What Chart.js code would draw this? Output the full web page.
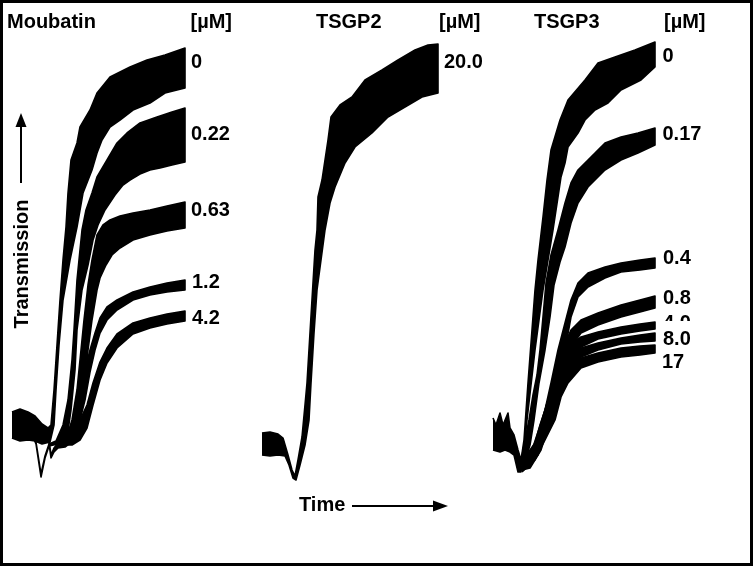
<!DOCTYPE html>
<html><head><meta charset="utf-8">
<script src="https://cdn.jsdelivr.net/npm/chart.js@4.4.1/dist/chart.umd.min.js"></script>
<style>
html,body{margin:0;padding:0;background:#fff;}
#fig{position:relative;width:753px;height:566px;overflow:hidden;background:#fff;font-family:"Liberation Sans",Arial,Helvetica,sans-serif;font-weight:bold;font-size:20px;color:#000;}
#frame{position:absolute;left:0;top:0;width:753px;height:566px;box-sizing:border-box;border:3px solid #000;z-index:5;}
canvas{position:absolute;}
.t{position:absolute;line-height:20px;white-space:nowrap;z-index:3;}
svg{position:absolute;left:0;top:0;z-index:4;}
</style></head><body>
<div id="fig">
<canvas id="cM" width="190" height="470" style="left:10px;top:30px"></canvas>
<canvas id="c2" width="190" height="470" style="left:256px;top:30px"></canvas>
<canvas id="c3" width="190" height="470" style="left:488px;top:30px"></canvas>
<div id="labels"></div>
<div class="t" style="left:-43.6px;top:254px;width:130px;text-align:center;transform:rotate(-90deg);">Transmission</div>
<div class="t" style="left:299px;top:494px;">Time</div>
<svg width="753" height="566">
  <line x1="21" y1="183" x2="21" y2="124" stroke="#000" stroke-width="2"/>
  <polygon points="21,113 15.5,127 26.5,127" fill="#000"/>
  <line x1="352" y1="506" x2="436" y2="506" stroke="#000" stroke-width="2"/>
  <polygon points="448,506 433,500.5 433,511.5" fill="#000"/>
</svg>
<div id="frame"></div>
</div>
<script>
// ===== DATA: platelet aggregation traces, time (s) vs light transmission (%) =====
// Each recorded trace is a noisy band: its upper and lower edge, [time, transmission].
const moubatinConc = ['0', '0.22', '0.63', '1.2', '4.2'];
const tsgp2Conc = ['20.0'];
const tsgp3Conc = ['0', '0.17', '0.4', '0.8', '4.0', '8.0', '17'];
const unitLabel = '[\u00b5M]';
const panelTitles = ['Moubatin', 'TSGP2', 'TSGP3'];

// Moubatin
const moubatin0Upper = [[2,4.5],[10,5.25],[18,4.5],[25,3.5],[32,1.5],[38,0.5],[41,1.25],[44,10],[47,21.25],[50,32.5],[53,42.5],[56,50.75],[58,59.25],[61,67.5],[67,71.75],[70,75.75],[80,80],[87,84.25],[100,88.25],[120,90.75],[137,92.5],[155,93.75],[175,95.5]];
const moubatin0Lower = [[2,-2],[10,-2.75],[18,-2.5],[25,-2.75],[32,-3.5],[40,-3],[44,1.25],[46,10],[49,21.25],[53,32.5],[60,42.5],[67,50.75],[73,59.25],[82,65],[87,69.25],[92,72.5],[100,75.75],[110,77.5],[123,80],[140,81.75],[155,84.25],[175,85.5]];
const moubatin022Upper = [[20,0.5],[26,-3],[31,-11],[35,-6.5],[39,-3.5],[46,-2.75],[53,1.25],[58,7.5],[62,17.5],[64,25],[67,37.5],[70,45],[72,50],[76,55],[82,59.25],[87,63.25],[97,67.5],[107,71.75],[117,74.25],[130,76.75],[147,78.25],[162,79.5],[175,80.5]];
const moubatin022Lower = [[20,0],[26,-3.5],[31,-11.75],[35,-7],[39,-4],[48,-3.5],[57,-2],[61,5],[65,15],[67,25],[72,35],[78,41.25],[83,47.5],[88,51.25],[95,55],[105,58.75],[113,61.25],[120,62.5],[130,64],[140,65],[150,65.5],[162,66.25],[175,67]];
const moubatin063Upper = [[34,0],[38,-0.5],[41,-6.25],[44,-4.5],[48,-3.25],[56,-2.5],[62,2.5],[67,10],[71,20],[74,27.5],[78,36.25],[82,42.5],[87,48.75],[93,51.25],[100,52.5],[110,53.5],[123,54.25],[140,55],[157,56],[175,57]];
const moubatin063Lower = [[34,-0.5],[38,-1.5],[41,-7],[44,-5.5],[48,-4.5],[55,-4.25],[64,-2.5],[70,3.75],[75,12.5],[78,20],[82,27.5],[87,35],[90,38],[96,41.25],[102,43.75],[110,45.5],[123,47.5],[140,48.75],[157,49.75],[175,50.5]];
const moubatin12Upper = [[55,-2.5],[63,2.5],[70,8.75],[75,15],[80,20],[85,24.25],[90,28],[97,30.75],[107,32.5],[123,34.5],[140,35.75],[157,36.75],[175,37.5]];
const moubatin12Lower = [[55,-3.75],[63,-2.5],[70,2.5],[75,7.5],[80,14.5],[85,20],[90,24.25],[97,27.5],[107,30],[123,32.5],[140,33.75],[157,34.5],[175,35]];
const moubatin42Upper = [[52,-2.5],[62,-1.25],[70,2.5],[77,6.25],[83,11.75],[90,17],[97,20.5],[107,24],[123,26.75],[140,28],[157,29],[175,29.75]];
const moubatin42Lower = [[52,-3.75],[62,-3.75],[70,-2.5],[77,0.5],[83,6.25],[90,12.5],[97,16.75],[107,20.5],[123,24],[140,25.5],[157,26.5],[175,27.25]];

// TSGP2
const tsgp2_20Upper = [[6,-0.75],[14,-0.5],[22,-1],[27,-2],[32,-6.25],[36,-10],[39,-11.5],[42,-7.5],[46,-1.75],[49,6.25],[51,11.75],[54,24.25],[57,36.75],[59,45],[61,50],[62,58.25],[66,62.5],[69,67.5],[72,72.5],[75,78.25],[84,81.25],[96,83.25],[109,87.5],[126,90],[142,92.5],[159,95],[172,96.25],[182,96.5]];
const tsgp2_20Lower = [[6,-6.25],[14,-6.5],[22,-6.25],[29,-6.5],[33,-8.75],[37,-12],[40,-12.5],[44,-8.75],[49,-3.75],[53,2.5],[55,11.75],[58,24.25],[61,35],[65,42.5],[69,50],[74,56.75],[79,60.75],[89,66.75],[99,70.75],[116,74.25],[132,78.25],[149,80.75],[166,83.25],[182,84.25]];

// TSGP3
const tsgp3_0Upper = [[5,3],[8,1.25],[12,4.25],[15,1.25],[20,4.25],[22,0.5],[26,-1.25],[30,-5],[33,-7.5],[36,-2.5],[40,11.75],[44,25],[47,35],[50,42.5],[55,53.25],[59,62.5],[63,70],[72,77.5],[80,82.5],[97,87.5],[110,91.75],[127,93.25],[147,95],[167,97]];
const tsgp3_0Lower = [[5,-5],[12,-5.5],[17,-5],[22,-5.5],[26,-6.25],[30,-10.5],[33,-10.5],[36,-5],[39,2.5],[43,11.25],[47,20],[51,27.5],[55,35],[60,42.5],[65,50],[70,58.25],[73,63.25],[77,66.75],[80,70.75],[90,74.25],[97,77.5],[107,80],[120,81.75],[133,85],[153,87.5],[167,90.75]];
const tsgp3_017Upper = [[33,-8],[36,-3.75],[41,2.5],[45,8.75],[49,13.75],[52,20],[55,28.25],[58,36.75],[63,43.75],[70,50],[77,56.75],[83,61.75],[90,65],[103,68.25],[117,71.75],[133,73.25],[150,74.25],[167,75.5]];
const tsgp3_017Lower = [[36,-8.75],[42,-3.75],[46,2.5],[51,11.75],[57,20],[62,28.25],[66,36.25],[72,42],[77,45.75],[83,51.75],[90,56.75],[100,60.75],[117,65],[133,67.5],[150,69.25],[167,71.25]];
const tsgp3_04Upper = [[34,-8],[42,-5],[47,-3.25],[52,1.25],[57,5],[63,11.75],[70,20],[77,26.75],[83,32.5],[90,36.75],[100,39.25],[117,40.75],[133,41.75],[152,42.5],[167,43]];
const tsgp3_04Lower = [[35,-9.5],[42,-8.75],[50,-6.25],[57,-0.75],[63,5.75],[70,13.25],[77,20],[83,28.25],[90,33.25],[100,35.75],[117,38],[133,39.5],[152,40],[167,40.5]];
const tsgp3_08Upper = [[34,-8.75],[44,-5],[53,1.75],[63,10],[70,16.75],[77,21.75],[83,25],[93,27.5],[110,29.25],[133,31.25],[152,32.5],[167,33.5]];
const tsgp3_08Lower = [[34,-10],[42,-9.5],[53,-5],[63,3.25],[70,10],[77,16.75],[83,20.75],[93,24.25],[110,26.25],[133,28.25],[152,29.5],[167,30.5]];
const tsgp3_4Upper = [[34,-9],[47,-3.75],[60,7.5],[67,12.5],[73,17.5],[80,20.75],[93,23.25],[110,24.5],[133,25.75],[152,26.5],[167,27]];
const tsgp3_4Lower = [[34,-10],[47,-6.25],[60,1.75],[67,7.5],[73,13.25],[80,17.5],[93,20.75],[110,22.75],[133,24],[152,24.75],[167,25.25]];
const tsgp3_8Upper = [[34,-9.25],[47,-4.25],[60,5],[67,10.75],[73,15],[80,18.25],[93,20.5],[110,21.75],[133,23],[152,23.75],[167,24.25]];
const tsgp3_8Lower = [[34,-10.25],[47,-7],[60,0],[67,5],[73,10.75],[80,15],[93,18.25],[110,20],[133,21.5],[152,22],[167,22.25]];
const tsgp3_17Upper = [[34,-9.5],[47,-5],[57,1.75],[67,8.25],[73,12],[80,15.5],[93,18],[110,19.25],[133,20.5],[152,21],[167,21.25]];
const tsgp3_17Lower = [[34,-10.5],[47,-7.5],[57,-2.5],[67,2.5],[73,8.25],[80,11.75],[93,15.5],[110,17],[133,18.25],[152,18.75],[167,19.25]];

// ===== LAYOUT (not data) =====
const timeRange = [0, 190];
const transRange = [-17.5, 100];
const titlePos = [[7,11],[316,11],[534,11]];
const unitPos = [[190.5,11],[439,11],[664,11]];
const moubatinLabelPos = [[191,51],[191,123],[191,199],[192,271],[192,307]];
const tsgp2LabelPos = [[444,51]];
const tsgp3LabelPos = [[662.5,45],[662.5,123],[663,247],[663,287],[663,312],[663,328],[662,351]];

const panels = [
  {canvas:'cM', conc:moubatinConc, pos:moubatinLabelPos,
   bands:[[moubatin0Upper,moubatin0Lower],[moubatin022Upper,moubatin022Lower],[moubatin063Upper,moubatin063Lower],[moubatin12Upper,moubatin12Lower],[moubatin42Upper,moubatin42Lower]]},
  {canvas:'c2', conc:tsgp2Conc, pos:tsgp2LabelPos,
   bands:[[tsgp2_20Upper,tsgp2_20Lower]]},
  {canvas:'c3', conc:tsgp3Conc, pos:tsgp3LabelPos,
   bands:[[tsgp3_0Upper,tsgp3_0Lower],[tsgp3_017Upper,tsgp3_017Lower],[tsgp3_04Upper,tsgp3_04Lower],[tsgp3_08Upper,tsgp3_08Lower],[tsgp3_4Upper,tsgp3_4Lower],[tsgp3_8Upper,tsgp3_8Lower],[tsgp3_17Upper,tsgp3_17Lower]]}
];

function bandOutline(upper, lower) {
  // upper edge forward in time, lower edge back: a closed outline of the noise band
  return upper.concat(lower.slice().reverse()).map(p => ({x: p[0], y: p[1]}));
}

const labelBox = document.getElementById('labels');
function addText(txt, left, top, clipH) {
  const d = document.createElement('div');
  d.className = 't';
  d.textContent = txt;
  d.style.left = left + 'px';
  d.style.top = top + 'px';
  if (clipH) { d.style.height = clipH + 'px'; d.style.overflow = 'hidden'; }
  labelBox.appendChild(d);
}

panels.forEach((p, i) => {
  addText(panelTitles[i], titlePos[i][0], titlePos[i][1]);
  addText(unitLabel, unitPos[i][0], unitPos[i][1]);
  p.conc.forEach((c, j) => {
    // the "4.0" label of TSGP3 is mostly hidden under the 8.0 label in the original
    const clip = (i === 2 && c === '4.0') ? 9 : 0;
    addText(c, p.pos[j][0], p.pos[j][1], clip);
  });
  new Chart(document.getElementById(p.canvas), {
    type: 'line',
    data: {
      datasets: p.bands.map((b, j) => ({
        label: p.conc[j] + ' \u00b5M',
        data: bandOutline(b[0], b[1]),
        fill: 'shape',
        backgroundColor: '#000',
        borderColor: '#000',
        borderWidth: 1.6,
        borderJoinStyle: 'round',
        pointRadius: 0,
        tension: 0,
        clip: false
      }))
    },
    options: {
      responsive: false,
      animation: false,
      events: [],
      layout: {padding: 0},
      plugins: {legend: {display: false}, tooltip: {enabled: false}},
      scales: {
        x: {type: 'linear', min: timeRange[0], max: timeRange[1], display: false},
        y: {type: 'linear', min: transRange[0], max: transRange[1], display: false}
      }
    }
  });
});
</script>
</body></html>
